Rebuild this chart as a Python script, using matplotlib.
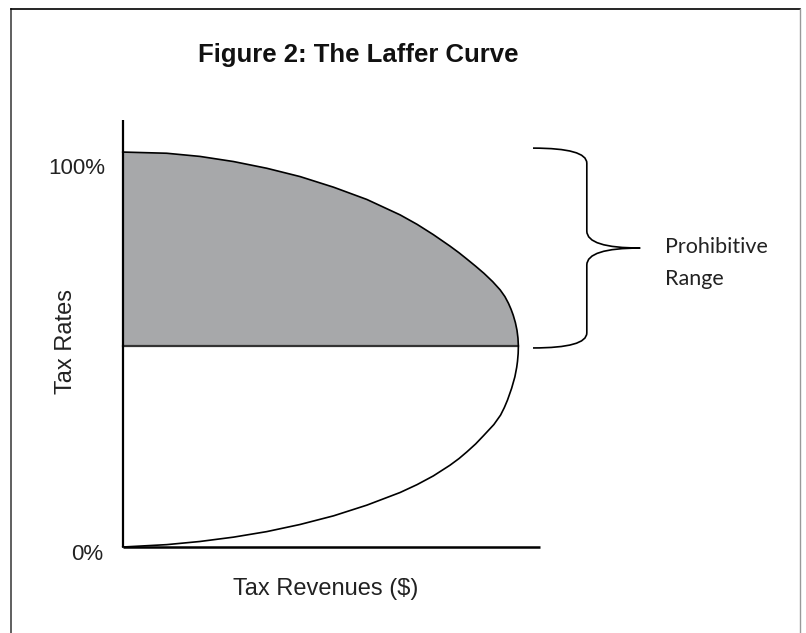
import matplotlib
matplotlib.use("Agg")
import matplotlib.pyplot as plt
from matplotlib.path import Path
from matplotlib.patches import PathPatch

# Laffer curve: revenue (peak = 100) vs tax rate (%)
# lower branch, from 0% up to the revenue-maximising rate
low_revenue = [0, 11.1, 19.5, 28.0, 36.4, 44.8, 53.3, 61.7, 70.1, 74.4, 78.5, 82.7,
               85.0, 87.0, 89.2, 91.2, 93.8, 95.5, 96.45, 97.25, 98.3, 99.12, 99.58,
               99.78, 99.95, 100]
low_rate = [0, 0.6, 1.4, 2.5, 3.9, 5.7, 7.9, 10.6, 13.8, 15.8, 18.0, 20.7,
            22.4, 24.1, 26.1, 28.2, 31.0, 33.4, 35.3, 37.2, 40.2, 43.1, 45.5,
            47.0, 49.0, 50.9]
# upper branch, from the peak up to 100%
up_revenue = [100, 99.9, 99.65, 99.25, 98.7, 98.15, 97.5, 96.6, 95.4, 93.5, 91.3,
              89.2, 87.0, 85.0, 82.7, 78.5, 74.4, 70.1, 61.7, 53.3, 44.8, 36.4,
              28.0, 19.5, 11.1, 0]
up_rate = [50.9, 52.9, 54.9, 56.8, 58.7, 60.2, 61.7, 63.4, 65.1, 67.2, 69.3,
           71.1, 72.9, 74.5, 76.2, 79.1, 81.7, 84.1, 88.0, 91.1, 93.8, 95.9,
           97.6, 98.9, 99.7, 100]
peak_rate = 50.9

tick_labels = ["0%", "100%"]
title = "Figure 2: The Laffer Curve"
xlabel = "Tax Revenues ($)"
ylabel = "Tax Rates"
brace_text = ["Prohibitive", "Range"]

fig = plt.figure(figsize=(8.06, 6.33), dpi=100)
ax = fig.add_axes([0, 0, 1, 1])
ax.set_xlim(-31.02, 172.7)
ax.set_ylim(-21.77, 138.5)
ax.axis("off")

# shaded prohibitive range
ax.fill(up_revenue + [0], up_rate + [peak_rate], color="#a7a8aa", lw=0)
ax.plot([0, max(up_revenue)], [peak_rate, peak_rate], color="#333333", lw=1.6)
ax.plot(low_revenue + up_revenue[1:], low_rate + up_rate[1:], color="black", lw=1.2,
        solid_joinstyle="round")

# axes
ax.plot([0, 0], [0, 108.1], color="black", lw=1.6, solid_capstyle="butt")
ax.plot([0, 105.5], [0, 0], color="black", lw=1.8, solid_capstyle="butt")

# brace
bx0, bx1, bx2 = 103.7, 117.3, 130.8
btop, bbot = 101.0, 50.4
bmid = (btop + bbot) / 2
verts = [(bx0, btop), (bx1, btop), (bx1, btop - 3.8),
         (bx1, bmid + 4.3), (bx1, bmid), (bx2, bmid),
         (bx1, bmid), (bx1, bmid - 4.3),
         (bx1, bbot + 3.8), (bx1, bbot), (bx0, bbot)]
codes = [Path.MOVETO, Path.CURVE3, Path.CURVE3,
         Path.LINETO, Path.CURVE3, Path.CURVE3,
         Path.CURVE3, Path.CURVE3,
         Path.LINETO, Path.CURVE3, Path.CURVE3]
ax.add_patch(PathPatch(Path(verts, codes), fill=False, ec="black", lw=1.2, clip_on=False))

sans = "Liberation Sans"
ax.text(137.1, 74.4, brace_text[0], fontsize=15.5, family="Lato", color="#222222")
ax.text(137.1, 66.3, brace_text[1], fontsize=15.5, family="Lato", color="#222222")

ax.text(-4.5, 94.4, tick_labels[1], ha="right", va="baseline", fontsize=16, family=sans, color="#222222")
ax.text(-5.0, -3.3, tick_labels[0], ha="right", va="baseline", fontsize=16, family=sans, color="#222222")

ax.text(59.5, 122.9, title, ha="center", va="baseline", fontsize=18.5, family=sans,
        fontweight="bold", color="#111111")
ax.text(51.2, -12.15, xlabel, ha="center", va="baseline", fontsize=17, family=sans, color="#222222")
ax.text(-14.4, 52.0, ylabel, ha="center", va="center", rotation=90, fontsize=17, family=sans,
        color="#222222")

# picture frame
W, H = 806, 633
fig.add_artist(plt.Line2D([11 / W, 11 / W], [0, 1 - 8.5 / H], transform=fig.transFigure,
                          color="#444444", lw=1.2))
fig.add_artist(plt.Line2D([11 / W, 800 / W], [1 - 8.5 / H, 1 - 8.5 / H], transform=fig.transFigure,
                          color="black", lw=1.2))
fig.add_artist(plt.Line2D([800 / W, 800 / W], [0, 1 - 8.5 / H], transform=fig.transFigure,
                          color="#999999", lw=1.0))

fig.savefig("out.png", dpi=100)
